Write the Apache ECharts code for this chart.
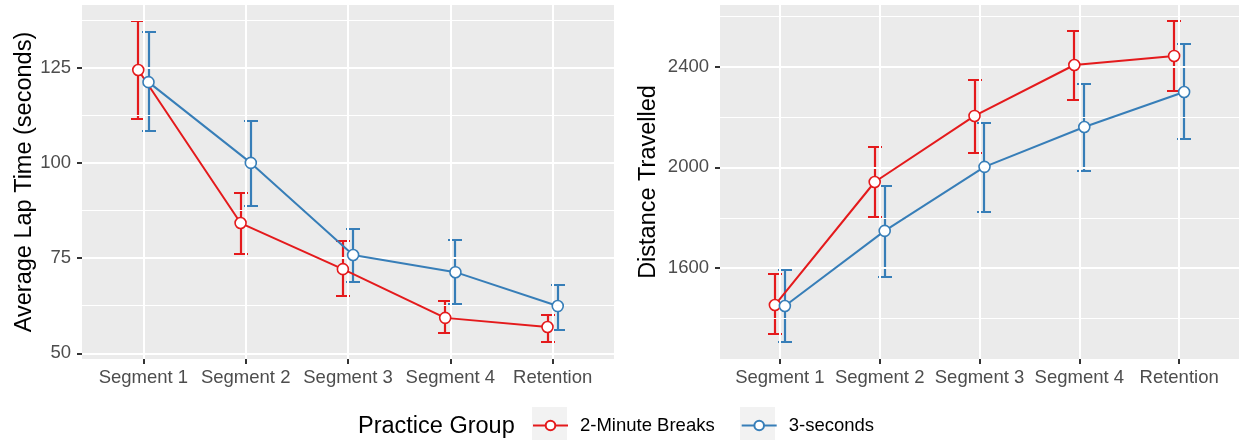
<!DOCTYPE html>
<html>
<head>
<meta charset="utf-8">
<script src="https://cdn.jsdelivr.net/npm/echarts@6/dist/echarts.min.js"></script>
<style>html,body{margin:0;padding:0;background:#fff;}#c{width:1239px;height:440px;}</style>
</head>
<body>
<div id="c"></div>
<script>
const categories = ['Segment 1', 'Segment 2', 'Segment 3', 'Segment 4', 'Retention'];
const groups = ['2-Minute Breaks', '3-seconds'];

// Left panel: Average Lap Time (seconds)
const lapBreaks     = [124.4, 84.2, 72.1, 59.3, 56.9];
const lapBreaksLow  = [111.5, 76.1, 65.0, 55.3, 53.0];
const lapBreaksHigh = [137.3, 92.1, 79.5, 63.7, 60.0];
const lap3s         = [121.2, 100.0, 75.8, 71.3, 62.4];
const lap3sLow      = [108.4, 88.7, 68.7, 62.9, 56.1];
const lap3sHigh     = [134.4, 111.0, 82.6, 79.7, 67.9];
const lapTicks      = [50, 75, 100, 125];
const lapMinor      = [62.5, 87.5, 112.5, 137.5];

// Right panel: Distance Travelled
const distBreaks     = [1454, 1942, 2204, 2406, 2442];
const distBreaksLow  = [1339, 1803, 2057, 2268, 2303];
const distBreaksHigh = [1577, 2081, 2347, 2541, 2581];
const dist3s         = [1450, 1748, 2002, 2160, 2299];
const dist3sLow      = [1308, 1565, 1823, 1986, 2113];
const dist3sHigh     = [1593, 1926, 2176, 2331, 2490];
const distTicks      = [1600, 2000, 2400];
const distMinor      = [1400, 1800, 2200, 2600];

const RED = '#E41A1C', BLUE = '#377EB8';
const FONT = 'Liberation Sans, Arial, sans-serif';
const DODGE = 0.05;
const CAPW = 0.14;
const catPos = categories.map((c, i) => i + 1);

function pts(vals, off) { return vals.map((v, i) => [i + 1 + off, v]); }
function bars(lo, hi, off) { return lo.map((l, i) => [i + 1 + off, l, hi[i]]); }

function errSeries(data, color, gi) {
  return {
    type: 'custom', xAxisIndex: gi, yAxisIndex: gi, z: 3, silent: true,
    encode: { x: 0, y: [1, 2] },
    data: data,
    renderItem: function (params, api) {
      const x = api.value(0), lo = api.value(1), hi = api.value(2);
      const a = api.coord([x, lo]), b = api.coord([x, hi]);
      const hw = Math.round(api.size([CAPW, 0])[0] / 2);
      const cx = Math.round(a[0]), ya = Math.round(a[1]), yb = Math.round(b[1]);
      const d = 'M' + (cx - hw) + ' ' + ya + ' L' + (cx + hw) + ' ' + ya +
                ' M' + cx + ' ' + ya + ' L' + cx + ' ' + yb +
                ' M' + (cx - hw) + ' ' + yb + ' L' + (cx + hw) + ' ' + yb;
      return { type: 'path', shape: { pathData: d },
        style: { stroke: color, lineWidth: 2.2, fill: 'none' } };
    }
  };
}

function lineSeries(name, data, color, gi) {
  return {
    name: name, type: 'line', xAxisIndex: gi, yAxisIndex: gi, z: 5,
    data: data, symbol: 'circle', symbolSize: 11, showSymbol: true,
    lineStyle: { color: color, width: 2 },
    itemStyle: { color: '#ffffff', borderColor: color, borderWidth: 1.6 },
    emphasis: { disabled: true }
  };
}

function gridSeries(gi, major, minor) {
  const d = [];
  minor.forEach(v => d.push({ yAxis: v, lineStyle: { width: 1 } }));
  major.forEach(v => d.push({ yAxis: v, lineStyle: { width: 2 } }));
  catPos.forEach(v => d.push({ xAxis: v, lineStyle: { width: 2 } }));
  return {
    type: 'line', xAxisIndex: gi, yAxisIndex: gi, z: 1, data: [], silent: true,
    markLine: { silent: true, symbol: 'none', label: { show: false }, animation: false,
      lineStyle: { color: '#ffffff', type: 'solid' }, data: d }
  };
}

function xAx(gi) {
  return {
    type: 'value', gridIndex: gi, min: 0.4, max: 5.6,
    splitLine: { show: false }, axisLine: { show: false },
    axisTick: { show: true, customValues: catPos, length: 5, lineStyle: { color: '#333333', width: 2 } },
    axisLabel: { customValues: catPos, formatter: v => categories[Math.round(v) - 1], color: '#4D4D4D',
      fontSize: 18.5, fontFamily: FONT, margin: 9 }
  };
}
function yAx(gi, min, max, ticks, name, gap) {
  return {
    type: 'value', gridIndex: gi, min: min, max: max,
    splitLine: { show: false }, axisLine: { show: false },
    axisTick: { show: true, customValues: ticks, length: 5, lineStyle: { color: '#333333', width: 2 } },
    axisLabel: { customValues: ticks, formatter: v => String(v), color: '#4D4D4D', fontSize: 18.5,
      fontFamily: FONT, margin: 11 },
    name: name, nameLocation: 'middle', nameGap: gap,
    nameTextStyle: { color: '#000000', fontSize: 23.5, fontFamily: FONT }
  };
}

const chart = echarts.init(document.getElementById('c'), null, { renderer: 'canvas' });
chart.setOption({
  animation: false,
  backgroundColor: '#ffffff',
  title: { text: 'Practice Group', left: 353, top: 410,
    textStyle: { fontSize: 23.5, fontWeight: 'normal', color: '#000000', fontFamily: FONT } },
  legend: {
    data: groups, left: 532, top: 416, padding: 0, itemWidth: 35, itemHeight: 12, itemGap: 26,
    textStyle: { fontSize: 18.5, color: '#000000', fontFamily: FONT, padding: [0, 0, 0, 7] }
  },
  graphic: [
    { type: 'rect', left: 532, top: 407, z: -1, shape: { width: 35, height: 35 }, style: { fill: '#F2F2F2' } },
    { type: 'rect', left: 740, top: 407, z: -1, shape: { width: 35, height: 35 }, style: { fill: '#F2F2F2' } }
  ],
  grid: [
    { left: 82, right: 625, top: 5, bottom: 81, show: true, backgroundColor: '#EBEBEB', borderWidth: 0 },
    { left: 720, right: 0, top: 5, bottom: 81, show: true, backgroundColor: '#EBEBEB', borderWidth: 0 }
  ],
  xAxis: [xAx(0), xAx(1)],
  yAxis: [
    yAx(0, 48.5, 141.46, lapTicks, 'Average Lap Time (seconds)', 40),
    yAx(1, 1240, 2644, distTicks, 'Distance Travelled', 59)
  ],
  series: [
    gridSeries(0, lapTicks, lapMinor),
    gridSeries(1, distTicks, distMinor),
    errSeries(bars(lapBreaksLow, lapBreaksHigh, -DODGE), RED, 0),
    errSeries(bars(lap3sLow, lap3sHigh, DODGE), BLUE, 0),
    errSeries(bars(distBreaksLow, distBreaksHigh, -DODGE), RED, 1),
    errSeries(bars(dist3sLow, dist3sHigh, DODGE), BLUE, 1),
    lineSeries(groups[0], pts(lapBreaks, -DODGE), RED, 0),
    lineSeries(groups[1], pts(lap3s, DODGE), BLUE, 0),
    lineSeries(groups[0], pts(distBreaks, -DODGE), RED, 1),
    lineSeries(groups[1], pts(dist3s, DODGE), BLUE, 1)
  ]
});
</script>
</body>
</html>
